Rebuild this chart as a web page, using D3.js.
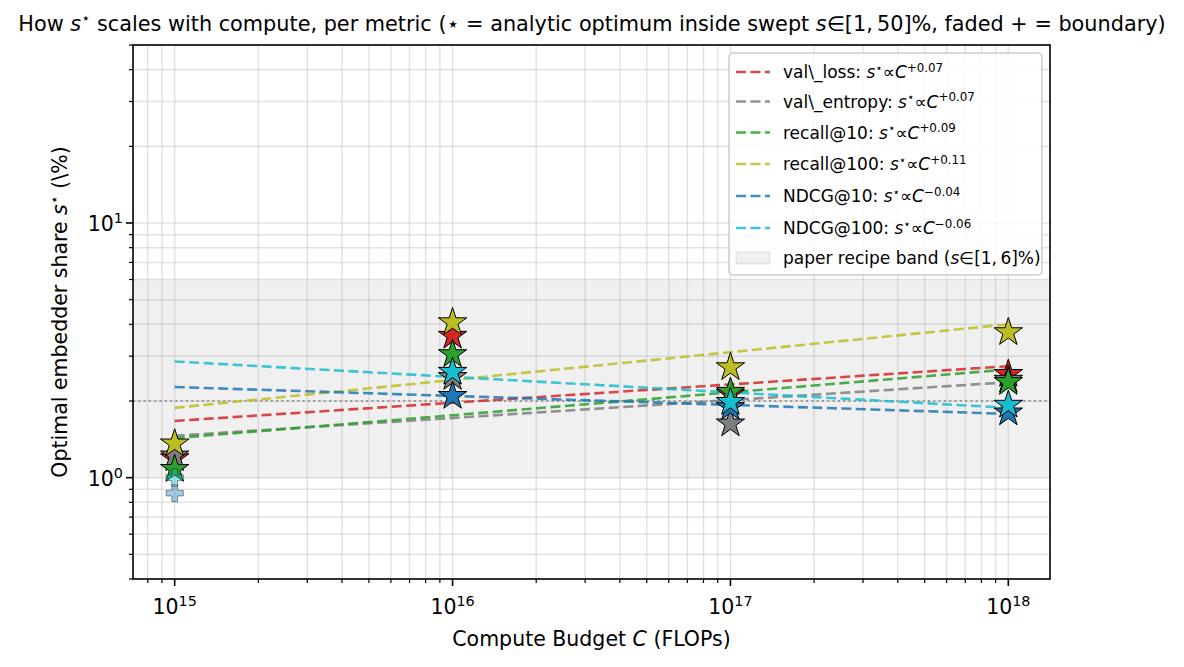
<!DOCTYPE html>
<html>
<head>
<meta charset="utf-8">
<script src="https://cdn.jsdelivr.net/npm/d3@7"></script>
<style>
  html, body { margin: 0; padding: 0; background: #fff; }
  svg { display: block; font-family: "DejaVu Sans", sans-serif; }
</style>
</head>
<body>
<svg id="chart" width="1184" height="667"></svg>
<script>
// compute budgets (FLOPs)
const budgets = [1e15, 1e16, 1e17, 1e18];

const metricNames = ["val\\_loss", "val\\_entropy", "recall@10", "recall@100", "NDCG@10", "NDCG@100"];
const metricColors = ["#d62728", "#7f7f7f", "#2ca02c", "#bcbd22", "#1f77b4", "#17becf"];

// optimal s* (%) per budget
const sLoss      = [1.19, 3.60, 2.13, 2.55];
const sEntropy   = [1.22, 2.48, 1.63, 2.42];
const sRecall10  = [1.08, 3.05, 2.17, 2.37];
const sRecall100 = [1.36, 4.07, 2.71, 3.72];
const sNdcg10    = [0.87, 2.09, 1.89, 1.80];
const sNdcg100   = [1.00, 2.60, 1.98, 1.93];

// true where the optimum sits on the sweep boundary (faded plus)
const bLoss      = [false, false, false, false];
const bEntropy   = [false, false, false, false];
const bRecall10  = [false, false, false, false];
const bRecall100 = [false, false, false, false];
const bNdcg10    = [true, false, false, false];
const bNdcg100   = [true, false, false, false];

// power-law fit: exponent label, fitted s at first and last budget
const fitExponents = ["+0.07", "+0.07", "+0.09", "+0.11", "\u22120.04", "\u22120.06"];
const fitFirst = [1.67, 1.46, 1.43, 1.88, 2.27, 2.86];
const fitLast  = [2.74, 2.37, 2.66, 4.00, 1.78, 1.88];

const bandRange = [1, 6];
const refLine = 2;

const xTickValues = [1e15, 1e16, 1e17, 1e18];
const xTickExps = ["15", "16", "17", "18"];
const yTickValues = [1, 10];
const yTickExps = ["0", "1"];

const sValues = [sLoss, sEntropy, sRecall10, sRecall100, sNdcg10, sNdcg100];
const boundary = [bLoss, bEntropy, bRecall10, bRecall100, bNdcg10, bNdcg100];

const series = metricNames.map((name, i) => ({
    name: name,
    color: metricColors[i],
    points: budgets.map((c, j) => ({ c: c, s: sValues[i][j], edge: boundary[i][j] })),
    fit: [{ c: budgets[0], s: fitFirst[i] }, { c: budgets[budgets.length - 1], s: fitLast[i] }],
    exp: fitExponents[i]
}));

const svg = d3.select("#chart");
const margin = { top: 45, right: 134, bottom: 88, left: 133 };
const width = 1184, height = 667;
const x0 = margin.left, x1 = width - margin.right;
const y0 = height - margin.bottom, y1 = margin.top;

const x = d3.scaleLog()
    .domain([Math.pow(10, 14.85), Math.pow(10, 18.15)])
    .range([x0, x1]);

const y = d3.scaleLog()
    .domain([0.4, 50])
    .range([y0, y1]);

const FS = 20.5;

// append a rich text made of pieces {t, it, sup}
function richText(sel, pieces, size) {
    pieces.forEach(p => {
        const ts = sel.append("tspan").text(p.t);
        if (p.it) ts.attr("font-style", "italic");
        if (p.sup) ts.attr("font-size", size * 0.7).attr("dy", -size * 0.38);
    });
    // fix baselines after superscripts
    const spans = sel.selectAll("tspan").nodes();
    for (let i = 1; i < spans.length; i++) {
        if (pieces[i - 1].sup && !pieces[i].sup) spans[i].setAttribute("dy", size * 0.38);
        if (pieces[i - 1].sup && pieces[i].sup) spans[i].removeAttribute("dy");
    }
    return sel;
}

svg.append("defs").append("clipPath").attr("id", "plot-clip")
    .append("rect").attr("x", x0).attr("y", y1).attr("width", x1 - x0).attr("height", y0 - y1);

const plot = svg.append("g").attr("clip-path", "url(#plot-clip)");

// band
plot.append("rect")
    .attr("x", x0).attr("width", x1 - x0)
    .attr("y", y(bandRange[1])).attr("height", y(bandRange[0]) - y(bandRange[1]))
    .attr("fill", "#808080").attr("fill-opacity", 0.12);

// grid (major + minor)
const xAllTicks = x.ticks(40).filter(v => v >= x.domain()[0] && v <= x.domain()[1]);
const yAllTicks = y.ticks(40).filter(v => v >= y.domain()[0] && v <= y.domain()[1]);

plot.selectAll(".xgrid").data(xAllTicks).enter().append("line")
    .attr("x1", d => x(d)).attr("x2", d => x(d))
    .attr("y1", y1).attr("y2", y0)
    .attr("stroke", "#b0b0b0").attr("stroke-width", 1.5).attr("stroke-opacity", 0.35);
plot.selectAll(".ygrid").data(yAllTicks).enter().append("line")
    .attr("x1", x0).attr("x2", x1)
    .attr("y1", d => y(d)).attr("y2", d => y(d))
    .attr("stroke", "#b0b0b0").attr("stroke-width", 1.5).attr("stroke-opacity", 0.35);

// reference dotted line
plot.append("line")
    .attr("x1", x0).attr("x2", x1)
    .attr("y1", y(refLine)).attr("y2", y(refLine))
    .attr("stroke", "#808080").attr("stroke-width", 1.5)
    .attr("stroke-dasharray", "2,3.3");

// fit lines
const line = d3.line().x(d => x(d.c)).y(d => y(d.s));
series.forEach(s => {
    plot.append("path")
        .datum(s.fit)
        .attr("d", line)
        .attr("fill", "none")
        .attr("stroke", s.color)
        .attr("stroke-opacity", 0.85)
        .attr("stroke-width", 2.6)
        .attr("stroke-dasharray", "10,4.5");
});

// markers
const star = d3.symbol().type(d3.symbolStar).size(250);
const plus = d3.symbol().type(d3.symbolCross).size(165);
series.forEach(s => {
    s.points.forEach(p => {
        plot.append("path")
            .attr("d", p.edge ? plus() : star())
            .attr("transform", `translate(${x(p.c)},${y(p.s)})`)
            .attr("fill", s.color)
            .attr("fill-opacity", p.edge ? 0.4 : 1)
            .attr("stroke", "#000")
            .attr("stroke-opacity", p.edge ? 0.4 : 1)
            .attr("stroke-width", 1);
    });
});

// axes frame
svg.append("rect")
    .attr("x", x0).attr("y", y1).attr("width", x1 - x0).attr("height", y0 - y1)
    .attr("fill", "none").attr("stroke", "#000").attr("stroke-width", 1.6);

// x ticks
svg.selectAll(".xtick").data(xAllTicks).enter().append("line")
    .attr("x1", d => x(d)).attr("x2", d => x(d))
    .attr("y1", y0).attr("y2", d => y0 + (xTickValues.includes(d) ? 7 : 4))
    .attr("stroke", "#000").attr("stroke-width", d => xTickValues.includes(d) ? 1.6 : 1.2);

xTickValues.forEach((v, i) => {
    const t = svg.append("text")
        .attr("x", x(v)).attr("y", 614)
        .attr("text-anchor", "middle")
        .attr("font-size", FS);
    richText(t, [{ t: "10" }, { t: xTickExps[i], sup: true }], FS);
});

// y ticks
svg.selectAll(".ytick").data(yAllTicks).enter().append("line")
    .attr("x1", d => x0 - (yTickValues.includes(d) ? 7 : 4)).attr("x2", x0)
    .attr("y1", d => y(d)).attr("y2", d => y(d))
    .attr("stroke", "#000").attr("stroke-width", d => yTickValues.includes(d) ? 1.6 : 1.2);

yTickValues.forEach((v, i) => {
    const t = svg.append("text")
        .attr("x", x0 - 10).attr("y", y(v) + 8)
        .attr("text-anchor", "end")
        .attr("font-size", FS);
    richText(t, [{ t: "10" }, { t: yTickExps[i], sup: true }], FS);
});

// axis labels
const xl = svg.append("text")
    .attr("x", (x0 + x1) / 2).attr("y", 646)
    .attr("text-anchor", "middle").attr("font-size", FS);
richText(xl, [{ t: "Compute Budget " }, { t: "C", it: true }, { t: " (FLOPs)" }], FS);

const yl = svg.append("text")
    .attr("transform", `translate(67,${(y0 + y1) / 2}) rotate(-90)`)
    .attr("text-anchor", "middle").attr("font-size", FS);
richText(yl, [{ t: "Optimal embedder share " }, { t: "s", it: true }, { t: "\u22c6", sup: true }, { t: " (\\%)" }], FS);

// title
const TS = 20.8;
const title = svg.append("text")
    .attr("x", 592).attr("y", 31)
    .attr("text-anchor", "middle").attr("font-size", TS);
richText(title, [
    { t: "How " }, { t: "s", it: true }, { t: "\u22c6", sup: true },
    { t: " scales with compute, per metric (\u22c6 = analytic optimum inside swept " },
    { t: "s", it: true }, { t: "\u2208[1,\u200950]%, faded + = boundary)" }
], TS);

// legend
const LS = 17;
const lg = svg.append("g");
lg.append("rect")
    .attr("x", 729).attr("y", 53).attr("width", 313).attr("height", 222)
    .attr("rx", 4)
    .attr("fill", "#fff").attr("fill-opacity", 0.8)
    .attr("stroke", "#cccccc").attr("stroke-width", 1.5);

const rowY = [72, 101.5, 132.5, 164, 196, 228];
series.forEach((s, i) => {
    lg.append("line")
        .attr("x1", 736).attr("x2", 770)
        .attr("y1", rowY[i]).attr("y2", rowY[i])
        .attr("stroke", s.color).attr("stroke-opacity", 0.85)
        .attr("stroke-width", 2.6).attr("stroke-dasharray", "10,4.5");
    const t = lg.append("text")
        .attr("x", 783).attr("y", rowY[i] + 6)
        .attr("font-size", LS);
    richText(t, [
        { t: s.name + ": " }, { t: "s", it: true }, { t: "\u22c6", sup: true },
        { t: "\u221d" }, { t: "C", it: true }, { t: s.exp, sup: true }
    ], LS);
});

lg.append("rect")
    .attr("x", 736).attr("y", 252).attr("width", 34).attr("height", 12)
    .attr("fill", "#808080").attr("fill-opacity", 0.12)
    .attr("stroke", "#808080").attr("stroke-opacity", 0.2);
const bt = lg.append("text").attr("x", 783).attr("y", 264).attr("font-size", LS);
richText(bt, [{ t: "paper recipe band (" }, { t: "s", it: true }, { t: "\u2208[1,\u20096]%)" }], LS);
</script>
</body>
</html>
